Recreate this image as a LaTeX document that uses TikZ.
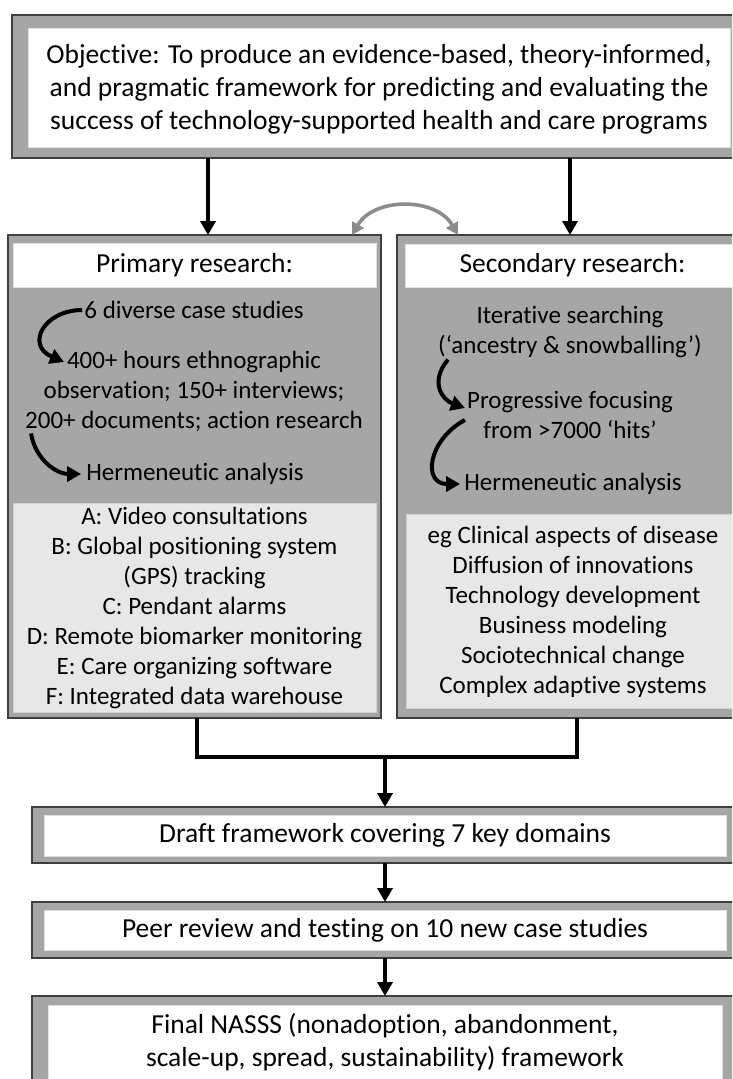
\documentclass[tikz,border=0pt]{standalone}
\usepackage{fontspec}
\setmainfont{Carlito}[Ligatures={TeX,NoCommon}]
\usetikzlibrary{arrows.meta}
\definecolor{frameGray}{HTML}{A6A6A6}
\definecolor{edgeGray}{HTML}{3F3F3F}
\definecolor{listGray}{HTML}{E7E7E7}
\definecolor{linkGray}{HTML}{8C8C8C}

\begin{document}
\begin{tikzpicture}[x=1pt,y=-1pt,
    frame/.style={draw=edgeGray,line width=1.3pt,fill=frameGray,inner sep=0pt,outer sep=0pt},
    whitebox/.style={draw=black!12,line width=0.8pt,fill=white,inner sep=0pt,outer sep=0pt},
    listbox/.style={draw=black!18,line width=0.8pt,fill=listGray,inner sep=0pt,outer sep=0pt},
    bigtext/.style={font=\fontsize{27.5}{33}\selectfont,align=center,inner sep=0pt},
    smalltext/.style={font=\fontsize{25}{30}\selectfont,align=center,inner sep=2pt},
    flowline/.style={line width=3.6pt},
    flowarrow/.style={line width=3.6pt,-{Triangle[length=14pt,width=15pt]}},
    bendarrow/.style={line width=4pt,-{Triangle[length=14pt,width=15pt]}},
    linkarrow/.style={draw=linkGray,line width=3.6pt,{Triangle[length=12pt,width=13pt]}-{Triangle[length=12pt,width=13pt]}}]

      \useasboundingbox (0,0) rectangle (732,1079);
      \clip (0,0) rectangle (732,1079);

      % objective
      \node[frame,minimum width=734pt,minimum height=143pt] (objFrame) at (379,86.5) {};
      \node[whitebox,minimum width=702pt,minimum height=119pt] (objBox) at (379,87.5) {};
      \node[bigtext] (objText) at (379,89) {Objective: To produce an evidence-based, theory-informed,\\and pragmatic framework for predicting and evaluating the\\success of technology-supported health and care programs};

      % primary research
      \node[frame,minimum width=373pt,minimum height=483pt] (primFrame) at (194.5,476.5) {};
      \node[whitebox,bigtext,minimum width=363pt,minimum height=44pt] (primHead) at (194.5,265) {Primary research:};
      \node[smalltext] (primCases) at (194,310) {6 diverse case studies};
      \node[smalltext] (primData) at (194,391) {400+ hours ethnographic\\observation; 150+ interviews;\\200+ documents; action research};
      \node[smalltext] (primHerm) at (195,474) {Hermeneutic analysis};
      \node[listbox,smalltext,inner sep=0pt,minimum width=363pt,minimum height=209pt] (primList) at (194.5,607.5) {A: Video consultations\\B: Global positioning system\\(GPS) tracking\\C: Pendant alarms\\D: Remote biomarker monitoring\\E: Care organizing software\\F: Integrated data warehouse};

      % secondary research
      \node[frame,minimum width=349pt,minimum height=483pt] (secFrame) at (571.5,476.5) {};
      \node[whitebox,bigtext,minimum width=335pt,minimum height=43pt] (secHead) at (572.5,265.5) {Secondary research:};
      \node[smalltext] (secSearch) at (570,331.5) {Iterative searching\\(‘ancestry \& snowballing’)};
      \node[smalltext] (secFocus) at (570,415) {Progressive focusing\\from >7000 ‘hits’};
      \node[smalltext] (secHerm) at (573,484) {Hermeneutic analysis};
      \node[listbox,smalltext,inner sep=0pt,minimum width=334pt,minimum height=194pt] (secList) at (573,611.5) {eg Clinical aspects of disease\\Diffusion of innovations\\Technology development\\Business modeling\\Sociotechnical change\\Complex adaptive systems};

      % later stages
      \node[frame,minimum width=706pt,minimum height=56pt] (draftFrame) at (385,835) {};
      \node[whitebox,bigtext,minimum width=682pt,minimum height=41pt] (draftBox) at (385,835.5) {Draft framework covering 7 key domains};
      \node[frame,minimum width=706pt,minimum height=56pt] (peerFrame) at (385,930) {};
      \node[whitebox,bigtext,minimum width=682pt,minimum height=40pt] (peerBox) at (385,930.5) {Peer review and testing on 10 new case studies};
      \node[frame,minimum width=706pt,minimum height=114pt] (finalFrame) at (385,1053) {};
      \node[whitebox,minimum width=674pt,minimum height=95pt] (finalBox) at (385,1052.5) {};
      \node[bigtext] (finalText) at (385,1042) {Final NASSS (nonadoption, abandonment,\\scale-up, spread, sustainability) framework};

      % connectors
      \coordinate (leftDrop) at (208,0);
      \coordinate (rightDrop) at (570,0);
      \draw[flowarrow] (objFrame.south -| leftDrop) -- (primFrame.north -| leftDrop);
      \draw[flowarrow] (objFrame.south -| rightDrop) -- (secFrame.north -| rightDrop);
      \draw[linkarrow] ([xshift=-29pt]primFrame.north east) .. controls +(22,-38) and +(-22,-38) .. ([xshift=61pt]secFrame.north west);

      \coordinate (primTip) at (64,362);
      \draw[bendarrow] (primCases.west) .. controls +(-38,0) and +(-39,-17) .. (primTip);
      \draw[bendarrow] ([xshift=8pt]primData.south west) .. controls +(5,28) and +(-23,0) .. ([xshift=-3pt]primHerm.west);
      \draw[bendarrow] ([xshift=12pt]secSearch.south west) .. controls +(-19,23) and +(-22,-8) .. ([yshift=7pt]secFocus.west);
      \draw[bendarrow] ([yshift=-5pt]secFocus.west) .. controls +(-37,20) and +(-38,0) .. ([xshift=-2pt]secHerm.west);

      \coordinate (mergeL) at (197,757);
      \coordinate (mergeR) at (577,757);
      \coordinate (mergeMid) at (385,757);
      \draw[flowline] (primFrame.south -| mergeL) -- (mergeL) -- (mergeR) -- (secFrame.south -| mergeR);
      \draw[flowarrow] (mergeMid) -- (draftFrame.north);
      \draw[flowarrow] (draftFrame.south) -- (peerFrame.north);
      \draw[flowarrow] (peerFrame.south) -- (finalFrame.north);

\end{tikzpicture}
\end{document}
